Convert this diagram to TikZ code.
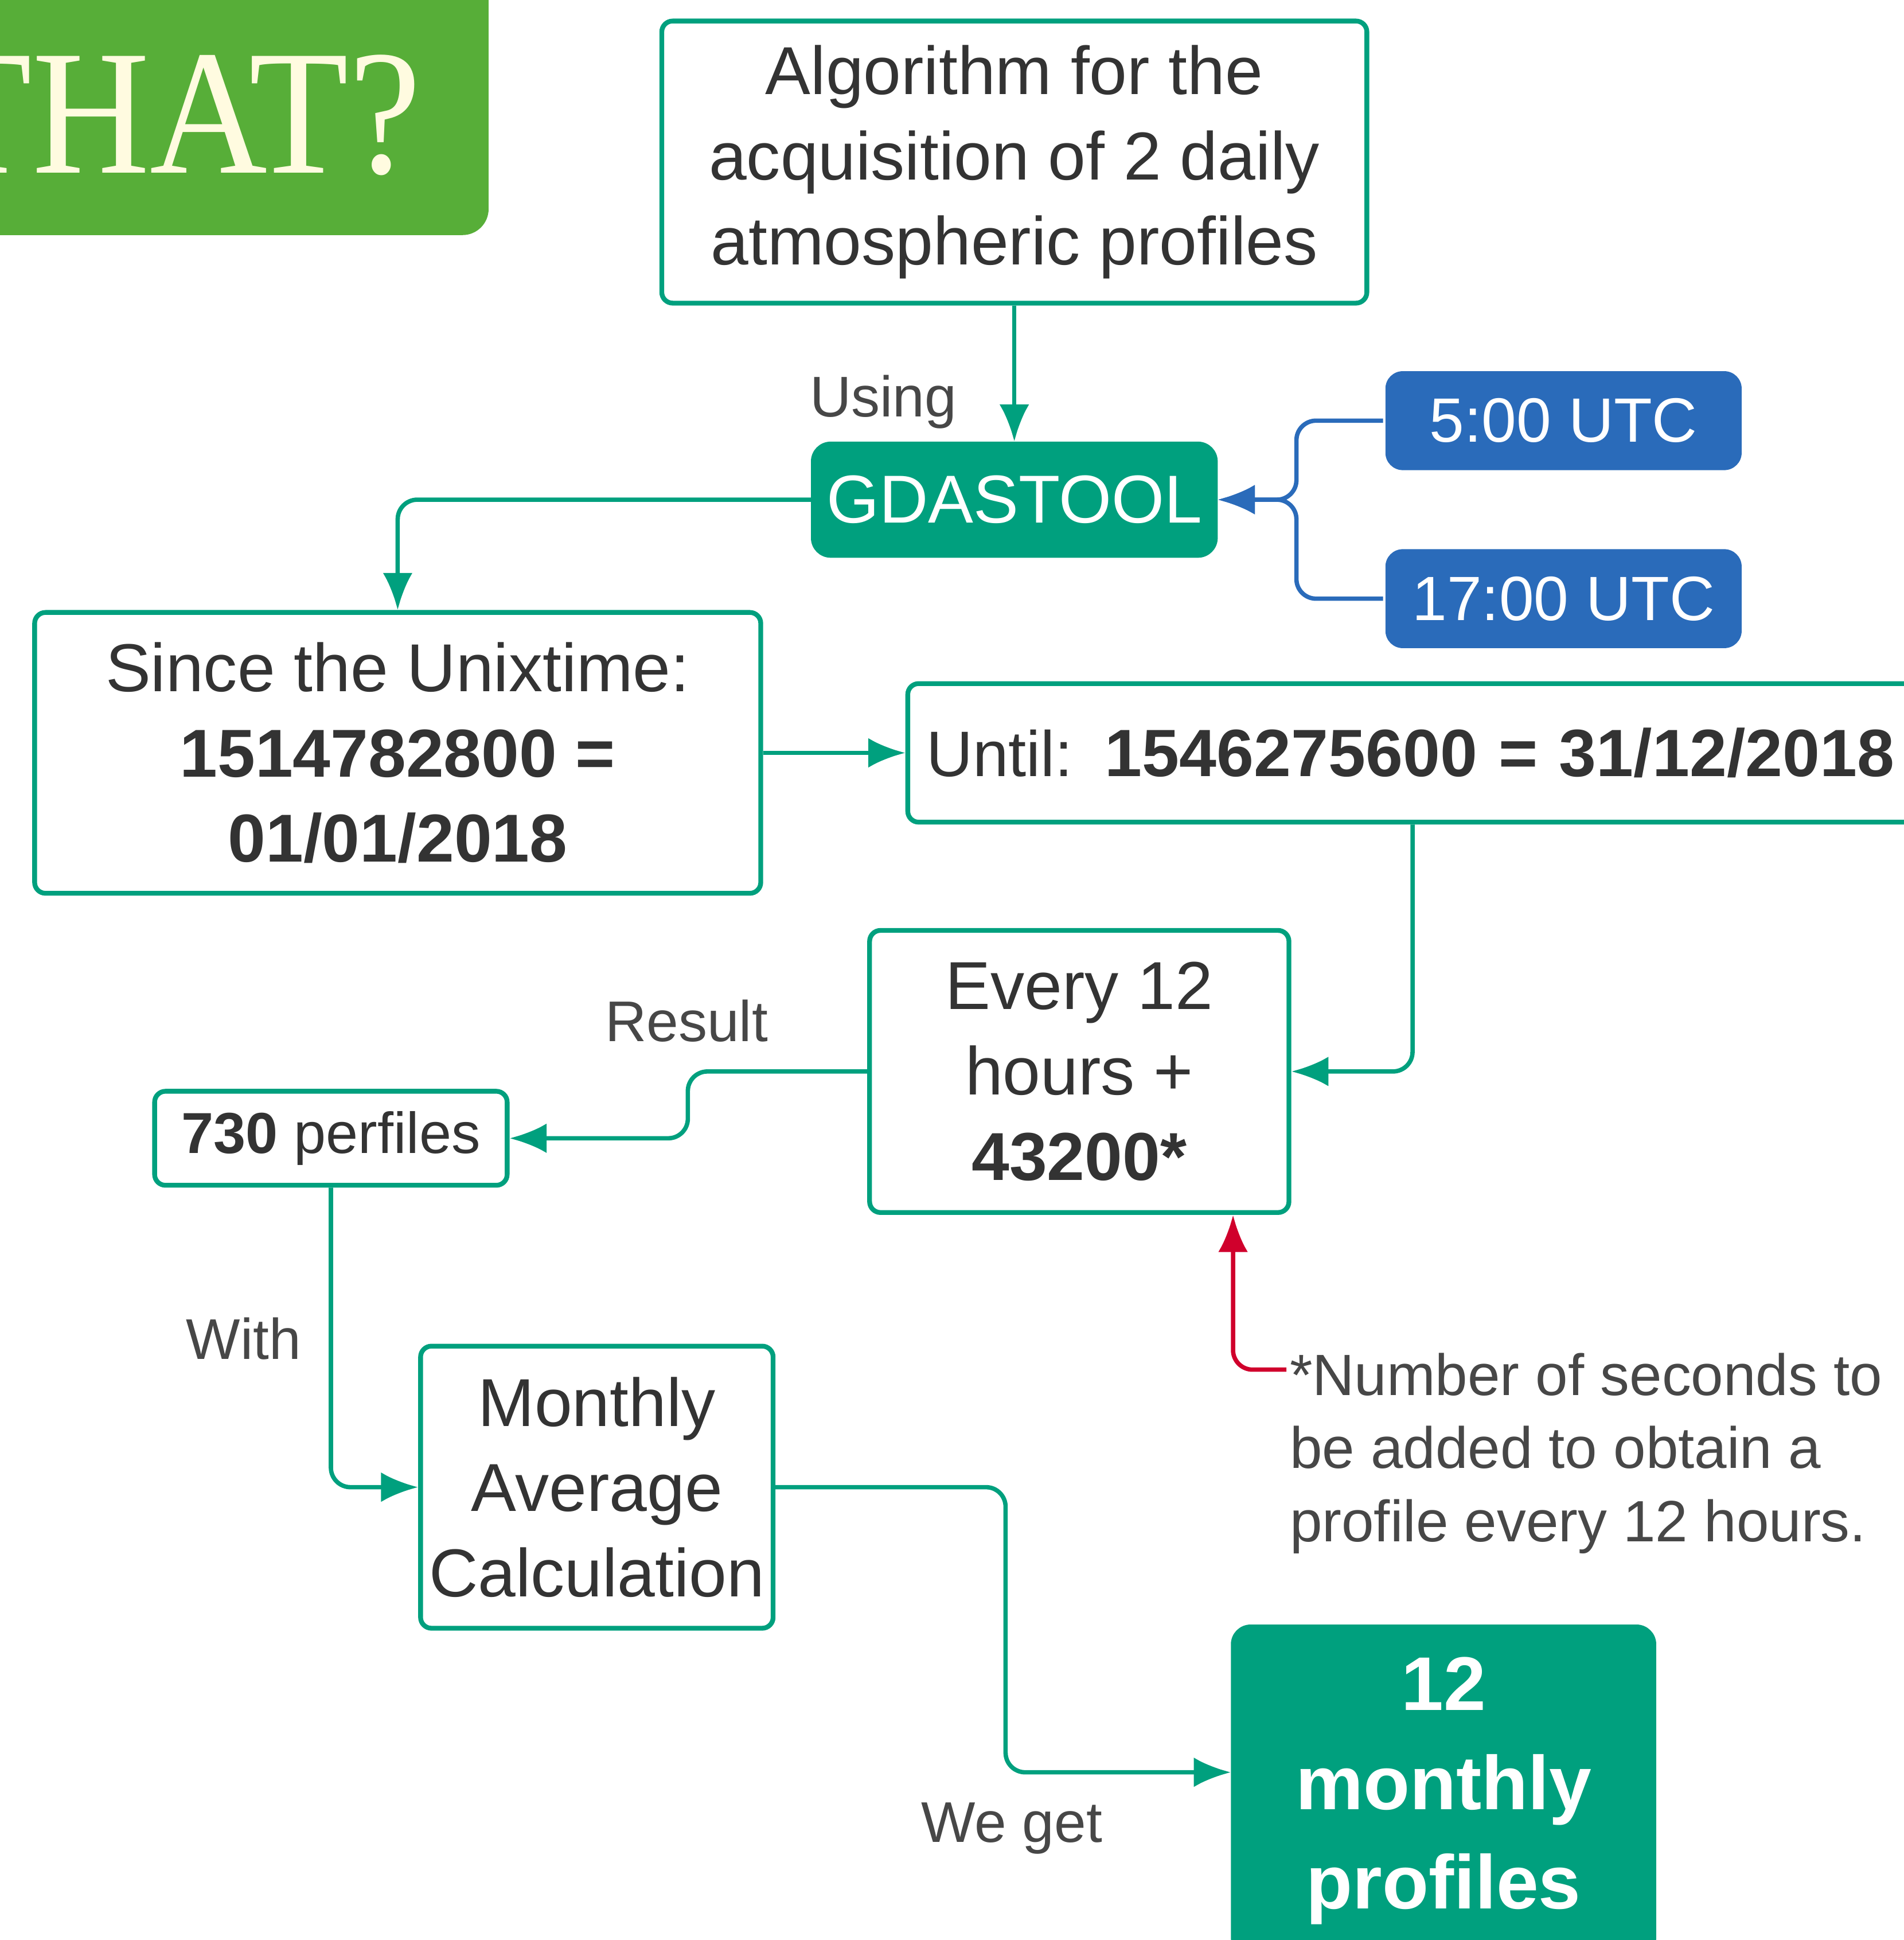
\documentclass[tikz,border=0pt]{standalone}
\usepackage{fontspec}
\setmainfont{Liberation Sans}
\newfontfamily\titlefont{Liberation Serif}
\usepackage{xcolor}
\usepackage{tikz}
\usetikzlibrary{positioning,arrows.meta}
\definecolor{lcteal}{HTML}{00A07E}
\definecolor{lcblue}{HTML}{2A6BBA}
\definecolor{lcgreen}{HTML}{57AE38}
\definecolor{lcred}{HTML}{D0002C}
\definecolor{lcgray}{HTML}{333333}
\definecolor{lccream}{HTML}{FFFBE0}

\begin{document}
\begin{tikzpicture}[
 box/.style={draw=lcteal,line width=1.1pt,rounded corners=2.5pt,fill=white,align=center,text=lcgray,inner sep=0pt,font=\fontsize{15.6}{19.6}\selectfont},
 tealbox/.style={box,fill=lcteal,text=white,rounded corners=4pt},
 utc/.style={box,draw=none,fill=lcblue,text=white,rounded corners=4pt,minimum width=2.88cm,minimum height=0.80cm,font=\fontsize{14.4}{17}\selectfont},
 lbl/.style={text=lcgray!90,inner sep=0pt,font=\fontsize{13.2}{16}\selectfont},
 arr/.style={-{Latex[length=3mm,width=2.4mm]},draw=lcteal,line width=1pt,rounded corners=4.5pt},
 barr/.style={arr,draw=lcblue}, rarr/.style={arr,draw=lcred}]
\useasboundingbox (0,0) rectangle (15.39,-15.68);
% title corner
\fill[lcgreen,rounded corners=6pt] (-0.5,0.5) rectangle (3.95,-1.90);
\node[anchor=base west,inner sep=0pt,text=lccream,font=\titlefont\fontsize{41}{41}\selectfont] (that) at (-0.55,-1.40) {\scalebox{0.913}[1]{THAT?}};
% boxes
\node[box,minimum width=5.70cm,minimum height=2.28cm] (alg) at (8.20,-1.31) {Algorithm for the\\acquisition of 2 daily\\atmospheric profiles};
\node[tealbox,below=1.10cm of alg,minimum width=3.25cm,minimum height=0.90cm] (gdas) {GDASTOOL};
\node[utc] (utcA) at (12.64,-3.40) {5:00 UTC};
\node[utc,below=0.60cm of utcA] (utcB) {17:00 UTC};
\node[box,minimum width=5.87cm,minimum height=2.27cm] (since) at (3.215,-6.085) {Since the Unixtime:\\\textbf{1514782800 =}\\\textbf{01/01/2018}};
\node[box,right=1.15cm of since,text width=8.3cm,align=left,inner xsep=0.15cm,minimum height=1.12cm,font=\fontsize{14.8}{18}\selectfont] (until) {Until: \textbf{\fontsize{15.4}{18}\selectfont 1546275600 = 31/12/2018}};
\node[box,minimum width=3.39cm,minimum height=2.28cm] (every) at (8.725,-8.66) {Every 12\\hours +\\\textbf{43200*}};
\node[box,minimum width=2.85cm,minimum height=0.76cm,font=\fontsize{13.3}{16}\selectfont] (perf) at (2.675,-9.20) {\textbf{730} perfiles};
\node[box,minimum width=2.85cm,minimum height=2.28cm] (month) at (4.825,-12.02) {Monthly\\Average\\Calculation};
\node[tealbox,anchor=north,minimum width=3.40cm,minimum height=2.65cm,font=\bfseries\fontsize{17.5}{22.8}\selectfont] (twelve) at (11.67,-13.13) {12\\monthly\\profiles};
\node[lbl,align=left,anchor=north west,font=\fontsize{13.4}{16.8}\selectfont] (note) at (10.42,-10.93) {*Number of seconds to\\be added to obtain a\\profile every 12 hours.};
% labels
\node[lbl] (using) at (7.14,-3.25) {Using};
\node[lbl] (result) at (5.55,-8.25) {Result};
\node[lbl] (with) at (1.97,-10.82) {With};
\node[lbl] (weget) at (8.18,-14.78) {We get};
\coordinate (noteA) at (10.40,-11.07);
% connectors
\draw[arr] (alg)--(gdas); \draw[arr] (gdas.west) -| (since.north);
\draw[barr] (utcA.west) -- ++(-0.70,0) |- (gdas.east);
\draw[barr] (utcB.west) -- ++(-0.70,0) |- (gdas.east);
\draw[arr] (since.east) -- (since.east -| until.west);
\draw[arr] ([xshift=4.10cm]until.south west) |- (every.east);
\draw[arr] (every.west) -- ++(-1.45,0) |- (perf.east);
\draw[arr] (perf.south) |- (month.west);
\draw[arr] (month.east) -- ++(1.86,0) |- ([yshift=0.15cm]twelve.west);
\draw[rarr] (noteA) -| (every.-43);
\end{tikzpicture}
\end{document}
